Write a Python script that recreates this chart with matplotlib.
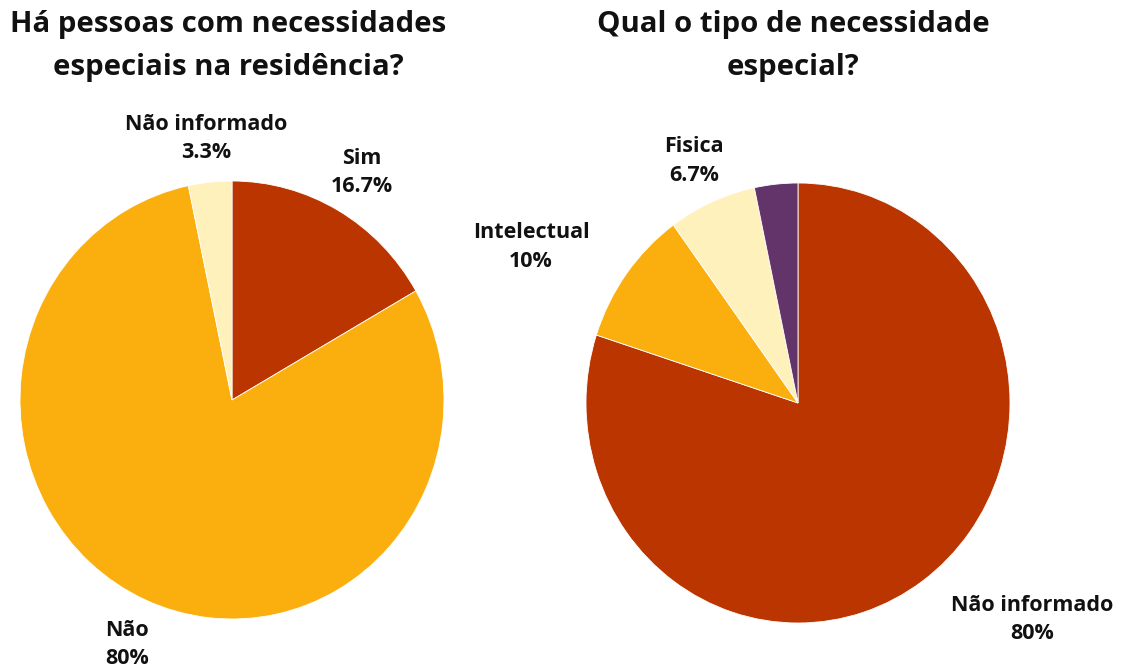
import numpy as np
import matplotlib
matplotlib.use("Agg")
import matplotlib.pyplot as plt

plt.rcParams['font.family'] = ['Open Sans', 'DejaVu Sans']

W, H = 1122, 668

# Left chart data
left_title = "Há pessoas com necessidades\nespeciais na residência?"
left_labels = ["Sim", "Não", "Não informado"]
left_values = [16.7, 80.0, 3.3]
left_pct = ["16.7%", "80%", "3.3%"]
left_colors = ["#BA3500", "#FBAF0F", "#FFF1BB"]

# Right chart data
right_title = "Qual o tipo de necessidade\nespecial?"
right_labels = ["Não informado", "Intelectual", "Fisica", ""]
right_values = [80.0, 10.0, 6.7, 3.3]
right_pct = ["80%", "10%", "6.7%", ""]
right_colors = ["#BA3500", "#FBAF0F", "#FFF1BB", "#63346A"]

# Layout: label anchor positions in axes units (pie radius = 1)
left_label_pos = [(0.613, 1.04), (-0.495, -1.115), (-0.123, 1.195)]
right_label_pos = [(1.104, -0.985), (-1.259, 0.709), (-0.49, 1.10), (0, 0)]

fig = plt.figure(figsize=(W / 100, H / 100), dpi=100)


def make_axes(cx, cy, rx, ry):
    ax = fig.add_axes([(cx - rx) / W, (H - cy - ry) / H, 2 * rx / W, 2 * ry / H])
    return ax


def draw(ax, values, colors, labels, pcts, positions):
    ax.pie(values, colors=colors, startangle=90, counterclock=False,
           radius=1, center=(0, 0), frame=True,
           wedgeprops=dict(linewidth=0.6, edgecolor='white'))
    ax.set_aspect('auto')
    ax.set_xlim(-1, 1)
    ax.set_ylim(-1, 1)
    ax.axis('off')
    for lab, pct, (x, y) in zip(labels, pcts, positions):
        if not lab:
            continue
        ax.text(x, y, f"{lab}\n{pct}", ha='center', va='center',
                fontsize=15.5, fontweight='bold', linespacing=1.45, clip_on=False,
                color='#111111')


axL = make_axes(232, 400, 212, 219)
draw(axL, left_values, left_colors, left_labels, left_pct, left_label_pos)

axR = make_axes(798, 403, 212, 220)
draw(axR, right_values, right_colors, right_labels, right_pct, right_label_pos)

fig.text(228 / W, 1 - 46 / H, left_title, ha='center', va='center', fontsize=21.2,
         fontweight='bold', linespacing=1.6, color='#111111')
fig.text(793 / W, 1 - 46 / H, right_title, ha='center', va='center', fontsize=21.2,
         fontweight='bold', linespacing=1.6, color='#111111')

fig.savefig("out.png", dpi=100, facecolor='white')
